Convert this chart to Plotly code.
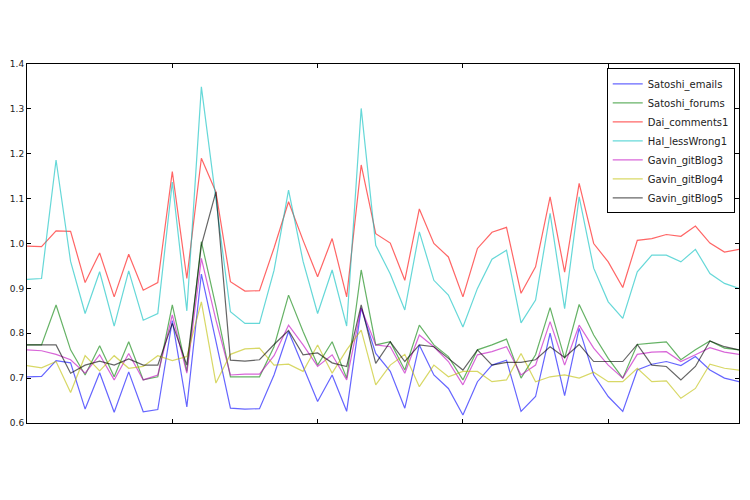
import plotly.graph_objects as go

# one value per sample index (0..49)
satoshi_emails = [0.703, 0.704, 0.739, 0.734, 0.631, 0.712, 0.624, 0.714, 0.625, 0.630,
                  0.828, 0.636, 0.932, 0.780, 0.633, 0.631, 0.632, 0.707, 0.804, 0.726,
                  0.648, 0.707, 0.626, 0.856, 0.755, 0.715, 0.633, 0.774, 0.707, 0.677,
                  0.618, 0.692, 0.729, 0.740, 0.626, 0.659, 0.800, 0.661, 0.811, 0.707,
                  0.659, 0.626, 0.718, 0.731, 0.737, 0.728, 0.748, 0.718, 0.700, 0.692]
satoshi_forums = [0.774, 0.774, 0.863, 0.763, 0.707, 0.772, 0.703, 0.781, 0.696, 0.703,
                  0.863, 0.715, 1.004, 0.860, 0.703, 0.703, 0.703, 0.770, 0.885, 0.804,
                  0.729, 0.781, 0.700, 0.941, 0.774, 0.781, 0.718, 0.818, 0.774, 0.748,
                  0.696, 0.763, 0.774, 0.787, 0.700, 0.752, 0.857, 0.744, 0.864, 0.796,
                  0.744, 0.700, 0.775, 0.778, 0.781, 0.741, 0.763, 0.783, 0.767, 0.763]
dai_comments1 = [0.994, 0.993, 1.028, 1.027, 0.913, 0.979, 0.881, 0.976, 0.896, 0.913,
                 1.160, 0.922, 1.190, 1.115, 0.915, 0.894, 0.895, 0.990, 1.093, 1.007,
                 0.926, 1.011, 0.881, 1.175, 1.022, 1.001, 0.918, 1.077, 1.000, 0.970,
                 0.881, 0.989, 1.025, 1.036, 0.889, 0.948, 1.104, 0.936, 1.134, 1.000,
                 0.959, 0.902, 1.007, 1.011, 1.020, 1.016, 1.039, 1.001, 0.981, 0.987]
hal_lesswrong1 = [0.920, 0.922, 1.186, 0.960, 0.844, 0.937, 0.816, 0.939, 0.829, 0.844,
                  1.137, 0.850, 1.349, 1.100, 0.848, 0.822, 0.822, 0.940, 1.119, 0.960,
                  0.844, 0.941, 0.816, 1.301, 0.996, 0.932, 0.852, 1.026, 0.918, 0.885,
                  0.814, 0.900, 0.965, 0.985, 0.823, 0.874, 1.067, 0.855, 1.104, 0.945,
                  0.870, 0.833, 0.937, 0.974, 0.974, 0.959, 0.987, 0.933, 0.911, 0.900]
gavin_gitblog3 = [0.763, 0.761, 0.753, 0.741, 0.711, 0.752, 0.696, 0.755, 0.696, 0.707,
                  0.841, 0.711, 0.967, 0.830, 0.707, 0.709, 0.709, 0.750, 0.818, 0.774,
                  0.726, 0.752, 0.696, 0.856, 0.774, 0.770, 0.711, 0.796, 0.770, 0.737,
                  0.685, 0.752, 0.759, 0.770, 0.707, 0.729, 0.826, 0.729, 0.818, 0.767,
                  0.729, 0.700, 0.753, 0.758, 0.759, 0.737, 0.752, 0.768, 0.758, 0.753]
gavin_gitblog4 = [0.728, 0.723, 0.737, 0.668, 0.750, 0.716, 0.750, 0.722, 0.726, 0.750,
                  0.739, 0.748, 0.870, 0.689, 0.753, 0.765, 0.767, 0.729, 0.731, 0.715,
                  0.774, 0.711, 0.763, 0.807, 0.685, 0.729, 0.753, 0.681, 0.729, 0.703,
                  0.715, 0.715, 0.692, 0.696, 0.755, 0.692, 0.703, 0.707, 0.700, 0.713,
                  0.692, 0.692, 0.722, 0.692, 0.694, 0.655, 0.677, 0.731, 0.722, 0.718]
gavin_gitblog5 = [0.774, 0.774, 0.774, 0.711, 0.729, 0.738, 0.729, 0.743, 0.729, 0.729,
                  0.822, 0.729, 0.996, 1.115, 0.740, 0.738, 0.741, 0.775, 0.806, 0.752,
                  0.756, 0.734, 0.726, 0.863, 0.733, 0.781, 0.737, 0.774, 0.770, 0.744,
                  0.718, 0.763, 0.729, 0.735, 0.735, 0.741, 0.770, 0.746, 0.775, 0.737,
                  0.737, 0.737, 0.775, 0.729, 0.726, 0.696, 0.726, 0.783, 0.770, 0.763]

names = ["Satoshi_emails", "Satoshi_forums", "Dai_comments1", "Hal_lessWrong1",
         "Gavin_gitBlog3", "Gavin_gitBlog4", "Gavin_gitBlog5"]
series = [satoshi_emails, satoshi_forums, dai_comments1, hal_lesswrong1,
          gavin_gitblog3, gavin_gitblog4, gavin_gitblog5]
colors = ["#0000ff", "#008000", "#ff0000", "#00bfbf", "#bf00bf", "#bfbf00", "#000000"]

fig = go.Figure()
for name, ys, c in zip(names, series, colors):
    fig.add_trace(go.Scatter(x=list(range(len(ys))), y=ys, mode="lines", name=name,
                             line=dict(color=c, width=1.2), opacity=0.6))

fig.update_layout(width=750, height=500, autosize=False,
                  margin=dict(l=21, r=10, t=64, b=77),
                  paper_bgcolor="white", plot_bgcolor="white",
                  font=dict(family="DejaVu Sans", size=9, color="#222"),
                  legend=dict(x=0.994, y=0.988, xanchor="right", yanchor="top",
                              bordercolor="black", borderwidth=1, bgcolor="white",
                              font=dict(size=10), itemwidth=30, tracegroupgap=0))

fig.update_xaxes(range=[0, 49], tickvals=[0, 10, 20, 30, 40], showticklabels=False,
                 ticks="inside", ticklen=4, tickcolor="black",
                 showline=True, linecolor="black", linewidth=1, mirror="ticks",
                 showgrid=False, zeroline=False)
fig.update_yaxes(range=[0.6, 1.4], dtick=0.1, tickformat=".1f",
                 ticks="inside", ticklen=4, tickcolor="black",
                 showline=True, linecolor="black", linewidth=1, mirror="ticks",
                 showgrid=False, zeroline=False)

# drop the page's default body margin so the figure sits at the window corner
fig.write_html("out.html", config={"displayModeBar": False},
               post_script="document.body.style.margin='0';")
